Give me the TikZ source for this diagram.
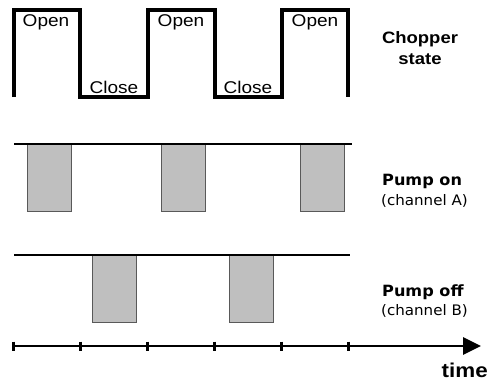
\documentclass[tikz,border=0pt]{standalone}
\usepackage{fontspec}
\setsansfont[FakeStretch=1.12]{Liberation Sans}
\newfontfamily\pumpfont[FakeStretch=1.04]{DejaVu Sans}
\usetikzlibrary{arrows.meta}

\begin{document}
\begin{tikzpicture}[x=1pt,y=-1pt,
      wave/.style={line width=3.3pt,line join=miter},
      level line/.style={line width=2.8pt},
      pulse/.style={draw=black!65,fill=black!25,line width=0.8pt},
      tick mark/.style={line width=3pt},
      state label/.style={font=\sffamily\fontsize{17}{17}\selectfont,anchor=base,inner sep=0pt},
      side label/.style={font=\sffamily\bfseries\fontsize{16.5}{16.5}\selectfont,anchor=base,inner sep=0pt},
      pump label/.style={font=\pumpfont\bfseries\fontsize{15.5}{15.5}\selectfont,anchor=base west,inner sep=0pt},
      channel label/.style={font=\pumpfont\fontsize{14.5}{14.5}\selectfont,anchor=base west,inner sep=0pt}]
    \useasboundingbox (0,0) rectangle (488,380);
    % chopper wave
    \draw[wave] (14,97) -- (14,10) -- (80,10) -- (80,97) -- (148,97) -- (148,10)
      -- (215,10) -- (215,97) -- (282,97) -- (282,10) -- (348,10) -- (348,97);
    \node[state label] (open1) at (46,27) {Open};
    \node[state label] (open2) at (181,27) {Open};
    \node[state label] (open3) at (315,27) {Open};
    \node[state label] (close1) at (114,93) {Close};
    \node[state label] (close2) at (248,93) {Close};
    \node[side label] (chopper) at (420,43) {Chopper};
    \node[side label] (state) at (420,64) {state};
    % pump on
    \foreach \x in {27,161,300}
      \draw[pulse] (\x,144) rectangle ++(44,67);
    \draw[level line] (14,144) -- (352,144);
    \node[pump label] (pumpon) at (382,185) {Pump on};
    \node[channel label] (chanA) at (381,205) {(channel A)};
    % pump off
    \foreach \x in {92,229}
      \draw[pulse] (\x,255) rectangle ++(44,67);
    \draw[level line] (14,255) -- (350,255);
    \node[pump label] (pumpoff) at (382,296) {Pump off};
    \node[channel label] (chanB) at (381,315) {(channel B)};
    % time axis
    \coordinate (t0) at (13,346);
    \coordinate (tend) at (481,346);
    \draw[line width=2.8pt,-{Triangle[length=18pt,width=17pt]}] (t0) -- (tend);
    \foreach \x in {13,80,147,214,281,348}
      \draw[tick mark] (\x,341.5) -- (\x,350.5);
    \node[font=\sffamily\bfseries\fontsize{20}{20}\selectfont,anchor=base east,inner sep=0pt] (time) at (488,377) {time};
  \end{tikzpicture}
\end{document}
